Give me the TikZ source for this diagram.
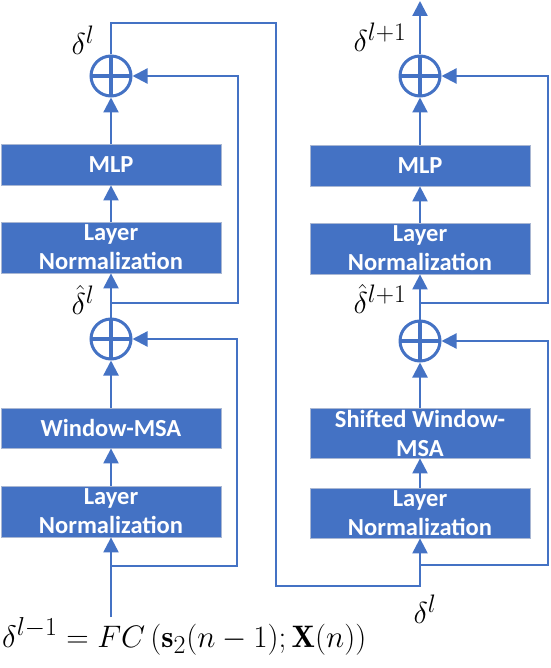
\documentclass[tikz,border=0pt]{standalone}
\usepackage{graphicx}
\usepackage{fontspec}
\usepackage{amsmath}
\setsansfont{Carlito}
\usetikzlibrary{arrows.meta,calc}
\definecolor{obl}{HTML}{4472C4}
\definecolor{oedge}{HTML}{A9B7D3}
\newcommand{\mymlab}[1]{\scalebox{1.22}{$#1$}}
\tikzset{
  blk/.style={rectangle, fill=obl, draw=oedge, line width=0.8pt, minimum width=220pt, text=white,
    font=\sffamily\bfseries\fontsize{24.5}{29}\selectfont, align=center, inner sep=0pt},
  plusnode/.style={circle, draw=obl, line width=3pt, minimum size=40pt, inner sep=0pt,
    path picture={\draw[obl, line width=3.5pt] (path picture bounding box.north) -- (path picture bounding box.south)
      (path picture bounding box.west) -- (path picture bounding box.east);}},
  conn/.style={draw=obl, line width=2.2pt},
  arr/.style={conn, -{Triangle[width=15pt,length=15pt]}},
  lab/.style={font=\fontsize{24.88}{30}\selectfont, inner sep=0pt}
}
\begin{document}
\begin{tikzpicture}[x=1pt,y=-1pt]
\useasboundingbox (0,0) rectangle (550,668);
% left column
\node[plusnode] (pL1) at (111,76) {};
\node[blk, minimum height=41pt] (mlpL) at (111,164.5) {MLP};
\node[blk, minimum height=51pt] (lnL1) at (111,247.5) {Layer\\Normalization};
\node[plusnode] (pL2) at (111,339) {};
\node[blk, minimum height=40pt] (wm) at (111,428) {Window-MSA};
\node[blk, minimum height=51pt] (lnL2) at (111,511.5) {Layer\\Normalization};
\coordinate (inL) at (111,617);
\coordinate (brL2) at (111,566);
\coordinate (brL1) at (111,303);
% right column
\node[plusnode] (pR1) at (420,76) {};
\node[blk, minimum height=41pt] (mlpR) at (420,165.5) {MLP};
\node[blk, minimum height=51pt] (lnR1) at (420,248.5) {Layer\\Normalization};
\node[plusnode] (pR2) at (420,341) {};
\node[blk, minimum height=50pt] (swm) at (420,433) {Shifted Window-\\MSA};
\node[blk, minimum height=50pt] (lnR2) at (420,513) {Layer\\Normalization};
\coordinate (out) at (420,1);
\coordinate (brR2) at (420,565);
\coordinate (brR1) at (420,303);
% labels
\node[lab] (dl) at (83,40) {\mymlab{\delta^{l}}};
\node[lab] (dhl) at (83,300) {\mymlab{\hat{\delta}^{l}}};
\node[lab] (dl1) at (380,37) {\mymlab{\delta^{l+1}}};
\node[lab] (dhl1) at (380,299) {\mymlab{\hat{\delta}^{l+1}}};
\node[lab] (dlb) at (425,609) {\mymlab{\delta^{l}}};
\node[lab, anchor=base west] (eq) at (2,647) {\scalebox{1.25}{$\delta^{l-1}=FC\left(\mathbf{s}_2(n-1);\mathbf{X}(n)\right)$}};
% left connectors
\draw[arr] (inL) -- (lnL2.south);
\draw[arr] (lnL2) -- (wm);
\draw[arr] (wm) -- (pL2);
\draw[arr] (brL2) -- (237,566) -- (237,339) -- (pL2.east);
\draw[arr] (pL2) -- (lnL1);
\draw[arr] (brL1) -- (238,303) -- (238,76) -- (pL1.east);
\draw[arr] (lnL1) -- (mlpL);
\draw[arr] (mlpL) -- (pL1);
\draw[arr] (pL1.north) -- (111,23) -- (276,23) -- (276,586) -- (420,586) -- (lnR2.south);
% right connectors
\draw[arr] (lnR2) -- (swm);
\draw[arr] (swm) -- (pR2);
\draw[arr] (brR2) -- (548,565) -- (548,341) -- (pR2.east);
\draw[arr] (pR2) -- (lnR1);
\draw[arr] (brR1) -- (548,303) -- (548,76) -- (pR1.east);
\draw[arr] (lnR1) -- (mlpR);
\draw[arr] (mlpR) -- (pR1);
\draw[arr] (pR1) -- (out);
\end{tikzpicture}
\end{document}
